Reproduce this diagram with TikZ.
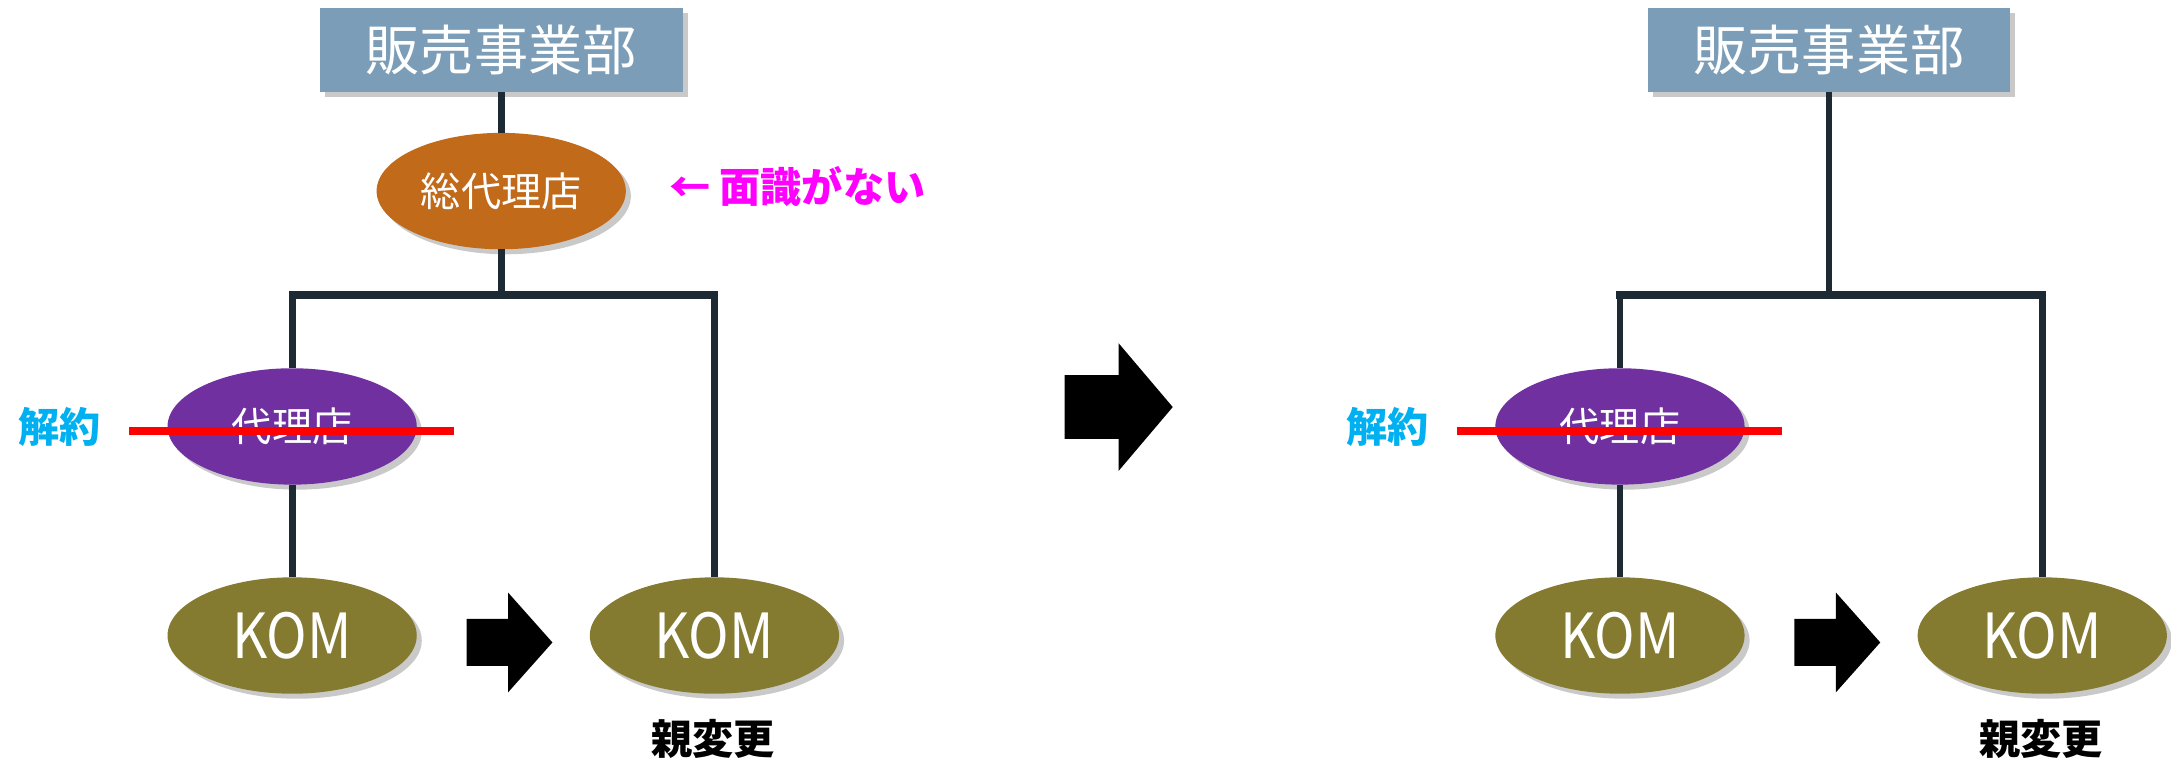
\documentclass[tikz,border=0pt]{standalone}
\usepackage{fontspec}
\setmainfont{Noto Sans CJK JP}
\newfontfamily\komfont[FakeStretch=0.88]{Noto Sans CJK JP}
\usetikzlibrary{shapes.geometric,shadows}
\definecolor{hqcol}{HTML}{7B9DB7}
\definecolor{soucol}{HTML}{C06A1A}
\definecolor{daicol}{HTML}{7030A0}
\definecolor{komcol}{HTML}{847B30}
\definecolor{lncol}{HTML}{1E2A33}
\definecolor{magcol}{HTML}{FF00FF}
\definecolor{cycol}{HTML}{00B0F0}
\begin{document}
\begin{tikzpicture}[x=0.69pt,y=-0.69pt,
  shad/.style={drop shadow={shadow xshift=2.5pt,shadow yshift=-2.5pt,opacity=0.3,fill=black!70}},
  hqbox/.style={shad,rectangle,fill=hqcol,text=white,minimum width=180.8pt,minimum height=42.1pt,inner sep=0pt,outer sep=0pt,font=\fontsize{27}{30}\selectfont},
  ell/.style={shad,ellipse,text=white,minimum width=124.2pt,minimum height=58pt,inner sep=0pt,outer sep=0pt},
  souell/.style={ell,fill=soucol,font=\fontsize{20}{24}\selectfont},
  daiell/.style={ell,fill=daicol,font=\fontsize{20}{24}\selectfont},
  komell/.style={ell,fill=komcol,font=\komfont\fontsize{31}{34}\selectfont},
  conn/.style={draw=lncol,line width=3.4pt},
  barline/.style={draw=lncol,line width=3.6pt,line cap=rect},
  strike/.style={draw=red,line width=4pt},
  blockarrow/.style={fill=black,draw=none},
  note/.style={inner sep=0pt,font=\fontsize{20.5}{24}\selectfont\bfseries}
]
\useasboundingbox (0,0) rectangle (1568,551);

% ---------- left diagram ----------
\node[hqbox] (hqL) at (362,36) {販売事業部};
\node[souell] (souL) at (362,138) {総代理店};
\node[note,text=magcol,anchor=west] (noteL) at (483,135) {← 面識がない};
\coordinate (barLl) at (211,213);
\coordinate (barLr) at (516,213);
\node[daiell] (daiL) at (211,308) {代理店};
\node[komell] (komL1) at (211,459) {KOM};
\node[komell] (komL2) at (516,459) {KOM};
\node[note,text=cycol] (kaiL) at (43,308) {解約};
\node[note,text=black] (oyaL) at (515,534) {親変更};

\draw[conn] (hqL.south) -- (souL.north);
\draw[conn] (souL.south) -- (souL.south |- barLl);
\draw[barline] (barLl) -- (barLr);
\draw[conn] (barLl) -- (daiL.north);
\draw[conn] (barLr) -- (komL2.north);
\draw[conn] (daiL.south) -- (komL1.north);
\coordinate (stLa) at (93,311);
\coordinate (stLb) at (328,311);
\draw[strike] (stLa) -- (stLb);
\fill[blockarrow] (337,447) -- (367,447) -- (367,428) -- (399,464) -- (367,500) -- (367,481) -- (337,481) -- cycle;

% ---------- middle arrow ----------
\fill[blockarrow] (769,271) -- (808,271) -- (808,248) -- (847,294) -- (808,340) -- (808,317) -- (769,317) -- cycle;

% ---------- right diagram ----------
\begin{scope}[xshift=959*0.69pt]
\node[hqbox] (hqR) at (362,36) {販売事業部};
\coordinate (barRl) at (211,213);
\coordinate (barRr) at (516,213);
\node[daiell] (daiR) at (211,308) {代理店};
\node[komell] (komR1) at (211,459) {KOM};
\node[komell] (komR2) at (516,459) {KOM};
\node[note,text=cycol] (kaiR) at (43,308) {解約};
\node[note,text=black] (oyaR) at (515,534) {親変更};

\draw[conn] (hqR.south) -- (hqR.south |- barRl);
\draw[barline] (barRl) -- (barRr);
\draw[conn] (barRl) -- (daiR.north);
\draw[conn] (barRr) -- (komR2.north);
\draw[conn] (daiR.south) -- (komR1.north);
\coordinate (stRa) at (93,311);
\coordinate (stRb) at (328,311);
\draw[strike] (stRa) -- (stRb);
\fill[blockarrow] (337,447) -- (367,447) -- (367,428) -- (399,464) -- (367,500) -- (367,481) -- (337,481) -- cycle;
\end{scope}
\end{tikzpicture}
\end{document}
